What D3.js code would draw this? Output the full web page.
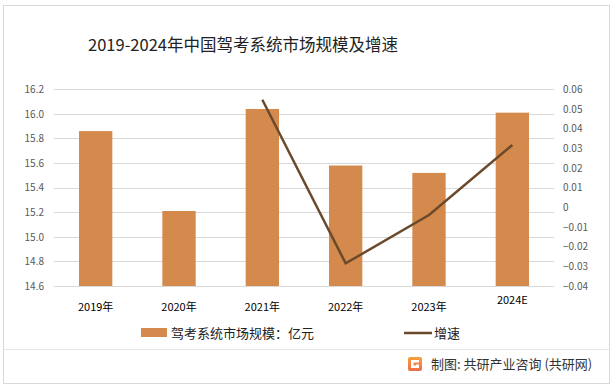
<!DOCTYPE html>
<html>
<head>
<meta charset="utf-8">
<script src="https://cdn.jsdelivr.net/npm/d3@7"></script>
<style>
  body { margin: 0; background: #fff; }
  text { font-family: "Microsoft YaHei", "Noto Sans CJK SC", sans-serif; }
</style>
</head>
<body>
<svg id="chart"></svg>
<script>
var years = ["2019年", "2020年", "2021年", "2022年", "2023年", "2024E"];
var marketSize = [15.86, 15.21, 16.04, 15.58, 15.52, 16.01];
var growth = [null, null, 0.0547, -0.0285, -0.0039, 0.0317];
var leftTicks = [14.6, 14.8, 15.0, 15.2, 15.4, 15.6, 15.8, 16.0, 16.2];
var rightTicks = [-0.04, -0.03, -0.02, -0.01, 0, 0.01, 0.02, 0.03, 0.04, 0.05, 0.06];

var width = 616;
var height = 390;
var barColor = "#d38a4c";
var lineColor = "#6b4a2c";

var svg = d3.select("#chart")
  .attr("width", width)
  .attr("height", height);

// outer frame
svg.append("rect")
  .attr("x", 3.5).attr("y", 5.5)
  .attr("width", 606).attr("height", 378)
  .attr("fill", "#fff")
  .attr("stroke", "#d9d9d9");

svg.append("line")
  .attr("x1", 4).attr("x2", 609)
  .attr("y1", 349.5).attr("y2", 349.5)
  .attr("stroke", "#e6e6e6");

svg.append("text")
  .attr("x", 88).attr("y", 51)
  .attr("font-size", "16.5px")
  .attr("fill", "#222")
  .text("2019-2024年中国驾考系统市场规模及增速");

var x = d3.scaleBand()
  .domain(years)
  .range([54, 554])
  .paddingInner(0.6)
  .paddingOuter(0.3);

var y = d3.scaleLinear().domain([14.6, 16.2]).range([286, 89.3]);
var y2 = d3.scaleLinear().domain([-0.04, 0.06]).range([286, 89.3]);

// gridlines
svg.append("g")
  .selectAll("line")
  .data(leftTicks)
  .enter()
  .append("line")
  .attr("x1", 54).attr("x2", 554)
  .attr("y1", function(d){ return Math.round(y(d)) + 0.5; })
  .attr("y2", function(d){ return Math.round(y(d)) + 0.5; })
  .attr("stroke", "#d9d9d9");

var leftAxis = d3.axisLeft(y)
  .tickValues(leftTicks)
  .tickSize(0)
  .tickPadding(10)
  .tickFormat(d3.format(".1f"));

svg.append("g")
  .attr("transform", "translate(54,0)")
  .call(leftAxis)
  .call(function(g){ g.select(".domain").remove(); })
  .selectAll("text")
  .attr("font-size", "10px")
  .attr("fill", "#595959");

var rightAxis = d3.axisRight(y2)
  .tickValues(rightTicks)
  .tickSize(0)
  .tickPadding(9)
  .tickFormat(function(d){ return d === 0 ? "0" : d3.format(".2f")(d); });

svg.append("g")
  .attr("transform", "translate(554,0)")
  .call(rightAxis)
  .call(function(g){ g.select(".domain").remove(); })
  .selectAll("text")
  .attr("font-size", "10px")
  .attr("fill", "#595959");

// bars
svg.selectAll("rect.bar")
  .data(marketSize)
  .enter()
  .append("rect")
  .attr("class", "bar")
  .attr("x", function(d, i){ return x(years[i]); })
  .attr("y", function(d){ return y(d); })
  .attr("width", x.bandwidth())
  .attr("height", function(d){ return 286 - y(d); })
  .attr("fill", barColor);

// growth line
var line = d3.line()
  .defined(function(d){ return d !== null; })
  .x(function(d, i){ return x(years[i]) + x.bandwidth() / 2; })
  .y(function(d){ return y2(d); });

svg.append("path")
  .datum(growth)
  .attr("d", line)
  .attr("fill", "none")
  .attr("stroke", lineColor)
  .attr("stroke-width", 2.5);

// x labels
svg.append("g")
  .selectAll("text")
  .data(years)
  .enter()
  .append("text")
  .attr("x", function(d){ return x(d) + x.bandwidth() / 2; })
  .attr("y", function(d){ return d === "2024E" ? 304 : 311; })
  .attr("text-anchor", "middle")
  .attr("font-size", "11px")
  .attr("fill", "#000")
  .text(function(d){ return d; });

// legend
var legend = svg.append("g").attr("class", "legend");
legend.append("rect")
  .attr("x", 141).attr("y", 328)
  .attr("width", 26).attr("height", 9)
  .attr("fill", barColor);
legend.append("text")
  .attr("x", 171).attr("y", 337.5)
  .attr("font-size", "13px")
  .attr("fill", "#222")
  .text("驾考系统市场规模：亿元");
legend.append("line")
  .attr("x1", 404).attr("x2", 432)
  .attr("y1", 333).attr("y2", 333)
  .attr("stroke", lineColor)
  .attr("stroke-width", 2.5);
legend.append("text")
  .attr("x", 434).attr("y", 337.5)
  .attr("font-size", "13px")
  .attr("fill", "#222")
  .text("增速");

// footer logo
var grad = svg.append("defs").append("linearGradient")
  .attr("id", "logoGrad")
  .attr("x1", "0").attr("y1", "0").attr("x2", "0").attr("y2", "1");
grad.append("stop").attr("offset", "0").attr("stop-color", "#f7a23b");
grad.append("stop").attr("offset", "1").attr("stop-color", "#f06a4a");

var logo = svg.append("g").attr("transform", "translate(408,357)");
logo.append("rect")
  .attr("width", 14).attr("height", 14)
  .attr("rx", 2)
  .attr("fill", "url(#logoGrad)");
logo.append("path")
  .attr("d", "M3,3 H11 V5.5 H5.5 V8.5 H11 V11 H3 Z M8,7.5 H11 V9 H8 Z")
  .attr("fill", "#fff");

svg.append("text")
  .attr("x", 431).attr("y", 369)
  .attr("font-size", "13px")
  .attr("fill", "#333")
  .text("制图: 共研产业咨询 (共研网)");
</script>
</body>
</html>
